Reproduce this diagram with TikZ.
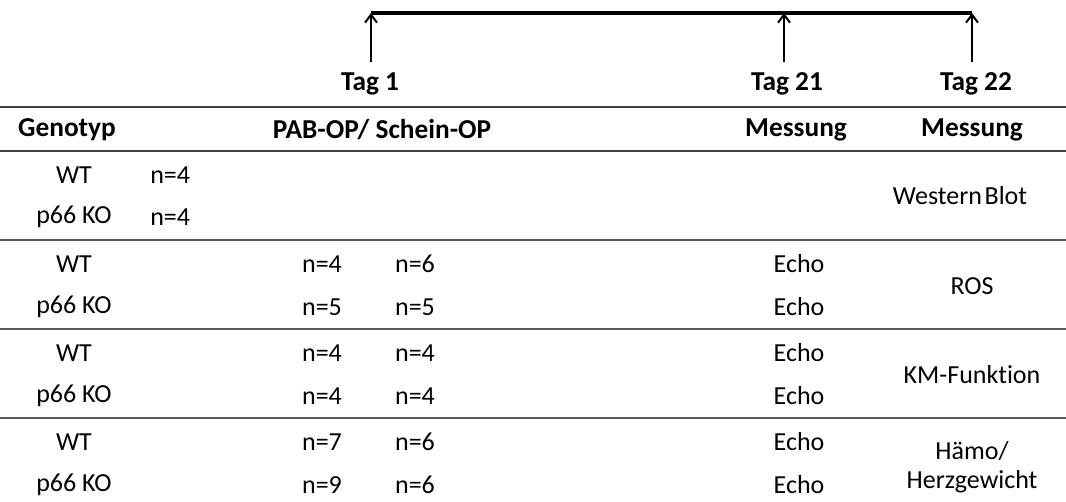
\documentclass[tikz,border=0pt]{standalone}
\usepackage{fontspec}
\setmainfont{Carlito}[Ligatures=CommonOff]
\usetikzlibrary{arrows.meta}
\begin{document}
\begin{tikzpicture}[x=0.75pt,y=-0.75pt,
  txt/.style={font=\fontsize{19.5}{22}\selectfont, inner sep=0pt, anchor=center},
  hd/.style={txt, font=\fontsize{20.5}{23}\selectfont\bfseries},
  tl/.style={line width=2.8pt, black},
  tick/.style={line width=1.8pt, black, -{Straight Barb[length=6pt,width=9pt,line width=1.5pt]}},
  rule/.style={line width=1.6pt, black!75},
  lrule/.style={line width=1.5pt, black!65}]
\useasboundingbox (0,0) rectangle (1066,502);
% timeline
\coordinate (t1) at (371,13);
\coordinate (t21) at (784,13);
\coordinate (t22) at (972,13);
\coordinate (b1) at (371,62);
\coordinate (b21) at (784,62);
\coordinate (b22) at (972,62);
\draw[tl] (t1) -- (t22);
\draw[tick] (b1) -- (t1);
\draw[tick] (b21) -- (t21);
\draw[tick] (b22) -- (t22);
\node[hd] (tag1) at (370,84) {Tag 1};
\node[hd] (tag21) at (787,84) {Tag 21};
\node[hd] (tag22) at (976,84) {Tag 22};
% rules
\draw[rule] (0,107) -- (1066,107);
\draw[rule] (0,151) -- (1066,151);
\draw[lrule] (0,240) -- (1066,240);
\draw[lrule] (0,329) -- (1066,329);
\draw[lrule] (0,418) -- (1066,418);
% header
\node[hd] (hgen) at (67,130) {Genotyp};
\node[hd] (hpab) at (382,130) {PAB-OP/ Schein-OP};
\node[hd] (hm21) at (796,130) {Messung};
\node[hd] (hm22) at (972,130) {Messung};
% group 1
\node[txt] (g1a) at (74,175) {WT};
\node[txt] (g1b) at (74,217) {p66 KO};
\node[txt,anchor=west] (g1an) at (150,175) {n=4};
\node[txt,anchor=west] (g1bn) at (150,217) {n=4};
\node[txt] (g1m) at (960,196) {Western\hspace{2pt}Blot};
% group 2
\node[txt] (g2a) at (74,264) {WT};
\node[txt] (g2b) at (74,307) {p66 KO};
\node[txt] (g2a1) at (322,264) {n=4};
\node[txt] (g2a2) at (415,264) {n=6};
\node[txt] (g2b1) at (322,307) {n=5};
\node[txt] (g2b2) at (415,307) {n=5};
\node[txt] (g2ae) at (799,264) {Echo};
\node[txt] (g2be) at (799,307) {Echo};
\node[txt] (g2m) at (972,286) {ROS};
% group 3
\node[txt] (g3a) at (74,353) {WT};
\node[txt] (g3b) at (74,396) {p66 KO};
\node[txt] (g3a1) at (322,353) {n=4};
\node[txt] (g3a2) at (415,353) {n=4};
\node[txt] (g3b1) at (322,396) {n=4};
\node[txt] (g3b2) at (415,396) {n=4};
\node[txt] (g3ae) at (799,353) {Echo};
\node[txt] (g3be) at (799,396) {Echo};
\node[txt] (g3m) at (972,375) {KM-Funktion};
% group 4
\node[txt] (g4a) at (74,442) {WT};
\node[txt] (g4b) at (74,485) {p66 KO};
\node[txt] (g4a1) at (322,442) {n=7};
\node[txt] (g4a2) at (415,442) {n=6};
\node[txt] (g4b1) at (322,485) {n=9};
\node[txt] (g4b2) at (415,485) {n=6};
\node[txt] (g4ae) at (799,442) {Echo};
\node[txt] (g4be) at (799,485) {Echo};
\node[txt] (g4m1) at (972,451) {Hämo/};
\node[txt] (g4m2) at (972,482) {Herzgewicht};
\end{tikzpicture}
\end{document}
